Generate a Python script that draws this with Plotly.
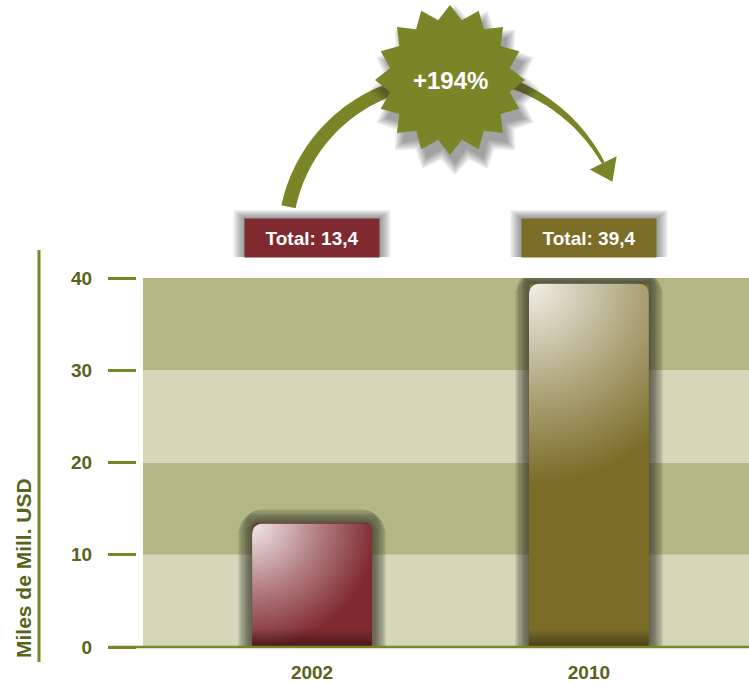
import math
import base64
import plotly.graph_objects as go

# ---------------- data ----------------
categories = ["2002", "2010"]
values = [13.4, 39.4]
total_labels = ["Total: 13,4", "Total: 39,4"]
growth_label = "+194%"
y_ticks = [0, 10, 20, 30, 40]
axis_title = "Miles de Mill. USD"

# ---------------- styles ----------------
bar_colors = ["#7f2a31", "#7b6c27"]
highlight_radius = [125, 200]          # px, style of the glossy highlight
OLIVE = "#7a8528"
OLIVE_TEXT = "#5a631b"
BAND_LIGHT = "#d4d8b9"
BAND_DARK = "#b3b784"
FONT = "Liberation Sans"

W, H = 749, 683
L, R, T, B = 137, 749, 278, 647
PW, PH = R - L, B - T
X_RANGE = [-0.632, 1.578]
Y_RANGE = [0, 40]
PX_X = PW / (X_RANGE[1] - X_RANGE[0])
PX_Y = PH / (Y_RANGE[1] - Y_RANGE[0])
BAR_W = 0.433
CORNER = 12


def px(xp):
    return (xp - L) / PW


def py(yp):
    return (B - yp) / PH


def path_from(points):
    s = "M " + " L ".join(f"{px(a):.5f},{py(b):.5f}" for a, b in points) + " Z"
    return s


xpos = list(range(len(categories)))
fig = go.Figure()

# glow around bars
G = 1.2
NG = 12
for k in range(NG, 0, -1):
    fig.add_trace(go.Bar(
        x=xpos, y=[v + k * G / PX_Y for v in values],
        width=BAR_W + 2 * k * G / PX_X,
        marker=dict(color="rgba(50,50,35,0.085)", cornerradius=CORNER + k * G,
                    line=dict(width=0)),
        hoverinfo="skip", showlegend=False))

# main bars
fig.add_trace(go.Bar(
    x=xpos, y=values, width=BAR_W,
    marker=dict(color=bar_colors, cornerradius=CORNER, line=dict(width=0)),
    hovertemplate="%{y}<extra></extra>", showlegend=False))

# glossy overlay images
images = []
for i, v in enumerate(values):
    wpx = BAR_W * PX_X
    hpx = v * PX_Y
    r = CORNER
    hr = highlight_radius[i]
    p = (f"M0,{hpx:.2f} L0,{r} Q0,0 {r},0 L{wpx - r:.2f},0 Q{wpx:.2f},0 {wpx:.2f},{r} "
         f"L{wpx:.2f},{hpx:.2f} Z")
    svg = (
        f'<svg xmlns="http://www.w3.org/2000/svg" width="{wpx:.2f}" height="{hpx:.2f}" '
        f'viewBox="0 0 {wpx:.2f} {hpx:.2f}" preserveAspectRatio="none">'
        f'<defs><radialGradient id="g" gradientUnits="userSpaceOnUse" cx="0" cy="0" r="{hr}">'
        f'<stop offset="0" stop-color="#ffffff" stop-opacity="0.9"/>'
        f'<stop offset="0.55" stop-color="#ffffff" stop-opacity="0.38"/>'
        f'<stop offset="1" stop-color="#ffffff" stop-opacity="0"/></radialGradient>'
        f'<linearGradient id="d" gradientUnits="userSpaceOnUse" x1="0" y1="{hpx - 18:.2f}" x2="0" y2="{hpx:.2f}">'
        f'<stop offset="0" stop-color="#000000" stop-opacity="0"/>'
        f'<stop offset="1" stop-color="#000000" stop-opacity="0.42"/></linearGradient></defs>'
        f'<path d="{p}" fill="url(#g)"/>'
        f'<rect x="0" y="{hpx - 18:.2f}" width="{wpx:.2f}" height="18" fill="url(#d)"/>'
        f'</svg>')
    src = "data:image/svg+xml;base64," + base64.b64encode(svg.encode()).decode()
    images.append(dict(source=src, xref="x", yref="y", x=i - BAR_W / 2, y=v,
                       sizex=BAR_W, sizey=v, xanchor="left", yanchor="top",
                       sizing="stretch", layer="above"))

shapes = []
# background bands
for j in range(len(y_ticks) - 1):
    shapes.append(dict(type="rect", xref="paper", yref="y", x0=px(143), x1=1,
                       y0=y_ticks[j], y1=y_ticks[j + 1], line=dict(width=0),
                       fillcolor=BAND_LIGHT if j % 2 == 0 else BAND_DARK, layer="below"))
# zero line
shapes.append(dict(type="line", xref="paper", yref="paper", x0=px(109), x1=1, y0=0, y1=0,
                   line=dict(color=OLIVE, width=2.5)))
# vertical axis rule
shapes.append(dict(type="line", xref="paper", yref="paper", x0=px(39), x1=px(39),
                   y0=py(250), y1=py(662), line=dict(color=OLIVE, width=3)))

# total boxes shadows
BOX_HALF = 67
BOX_TOP, BOX_BOT = 219, 257
for i in xpos:
    for k in range(9, 0, -1):
        shapes.append(dict(type="rect", xref="x", xsizemode="pixel", xanchor=i,
                           x0=-BOX_HALF - 1.3 * k, x1=BOX_HALF + 1.3 * k,
                           yref="paper", y0=py(BOX_BOT), y1=py(BOX_TOP - 1.0 * k),
                           line=dict(width=0), fillcolor="rgba(60,60,60,0.07)"))

# curved arrow
CX, CY = 445, 240


def arc_pts(r_fn, hw_fn, t0, t1, n=40):
    outer, inner = [], []
    for s in range(n + 1):
        f = s / n
        th = math.radians(t0 + (t1 - t0) * f)
        rr = r_fn(f)
        hw = hw_fn(f)
        outer.append((CX + (rr + hw) * math.cos(th), CY - (rr + hw) * math.sin(th)))
        inner.append((CX + (rr - hw) * math.cos(th), CY - (rr - hw) * math.sin(th)))
    return outer + inner[::-1]


shapes.append(dict(type="path", xref="paper", yref="paper",
                   path=path_from(arc_pts(lambda f: 160, lambda f: 7.3 - 0.8 * f, 168, 100)),
                   fillcolor=OLIVE, line=dict(width=0)))
shapes.append(dict(type="path", xref="paper", yref="paper",
                   path=path_from(arc_pts(lambda f: 168 + 8 * f, lambda f: 5.8 - 4.2 * f, 80, 26)),
                   fillcolor=OLIVE, line=dict(width=0)))
th = math.radians(26)
mx, my = CX + 176 * math.cos(th), CY - 176 * math.sin(th)
tx, ty = math.sin(th), math.cos(th)
nx, ny = math.cos(th), -math.sin(th)
head = [(mx + 15 * nx, my + 15 * ny), (mx + 21 * tx, my + 21 * ty), (mx - 15 * nx, my - 15 * ny)]
shapes.append(dict(type="path", xref="paper", yref="paper", path=path_from(head),
                   fillcolor=OLIVE, line=dict(width=0)))

# star with shadow
SX, SY = 450, 80


def star(cx, cy, ro, ri, n=16):
    pts = []
    for s in range(2 * n):
        a = math.radians(90 + s * 180 / n)
        rr = ro if s % 2 == 0 else ri
        pts.append((cx + rr * math.cos(a), cy - rr * math.sin(a)))
    return pts


for k in range(6, 0, -1):
    shapes.append(dict(type="path", xref="paper", yref="paper",
                       path=path_from(star(SX + 5, SY + 10, 72 + 2.2 * k, 58 + 2.2 * k)),
                       fillcolor="rgba(40,40,40,0.09)", line=dict(width=0)))
shapes.append(dict(type="path", xref="paper", yref="paper",
                   path=path_from(star(SX, SY, 75, 61)), fillcolor=OLIVE, line=dict(width=0)))

annotations = []
for i, lab in enumerate(total_labels):
    annotations.append(dict(x=xpos[i], xref="x", y=py((BOX_TOP + BOX_BOT) / 2), yref="paper",
                            text=lab, showarrow=False, bgcolor=bar_colors[i],
                            width=2 * BOX_HALF, height=BOX_BOT - BOX_TOP, borderpad=0,
                            xanchor="center", yanchor="middle",
                            font=dict(family=FONT, size=19, color="white", weight="bold")))
annotations.append(dict(x=px(SX), y=py(SY), xref="paper", yref="paper", text=growth_label,
                        showarrow=False, xanchor="center", yanchor="middle",
                        font=dict(family=FONT, size=24, color="white", weight="bold")))
annotations.append(dict(x=px(23), y=py(568), xref="paper", yref="paper", text=axis_title,
                        showarrow=False, textangle=-90, xanchor="center", yanchor="middle",
                        font=dict(family=FONT, size=21, color=OLIVE_TEXT, weight="bold")))

fig.update_layout(
    width=W, height=H, autosize=False,
    margin=dict(l=L, r=W - R, t=T, b=H - B, pad=0),
    paper_bgcolor="white", plot_bgcolor="white",
    barmode="overlay", bargap=0,
    shapes=shapes, annotations=annotations, images=images,
    showlegend=False,
    xaxis=dict(range=X_RANGE, tickvals=xpos, ticktext=categories, showgrid=False,
               zeroline=False, showline=False, ticks="", ticklabelstandoff=12,
               tickfont=dict(family=FONT, size=19, color=OLIVE_TEXT, weight="bold"),
               fixedrange=True),
    yaxis=dict(range=Y_RANGE, tickvals=y_ticks, showgrid=False, zeroline=False,
               showline=False, ticks="outside", ticklen=28, tickwidth=2.5, tickcolor=OLIVE,
               ticklabelstandoff=12,
               tickfont=dict(family=FONT, size=19, color=OLIVE_TEXT, weight="bold"),
               fixedrange=True),
)

fig.write_html("out.html", config={"displayModeBar": False},
               post_script="document.body.style.margin='0px';document.body.style.overflow='hidden';")
